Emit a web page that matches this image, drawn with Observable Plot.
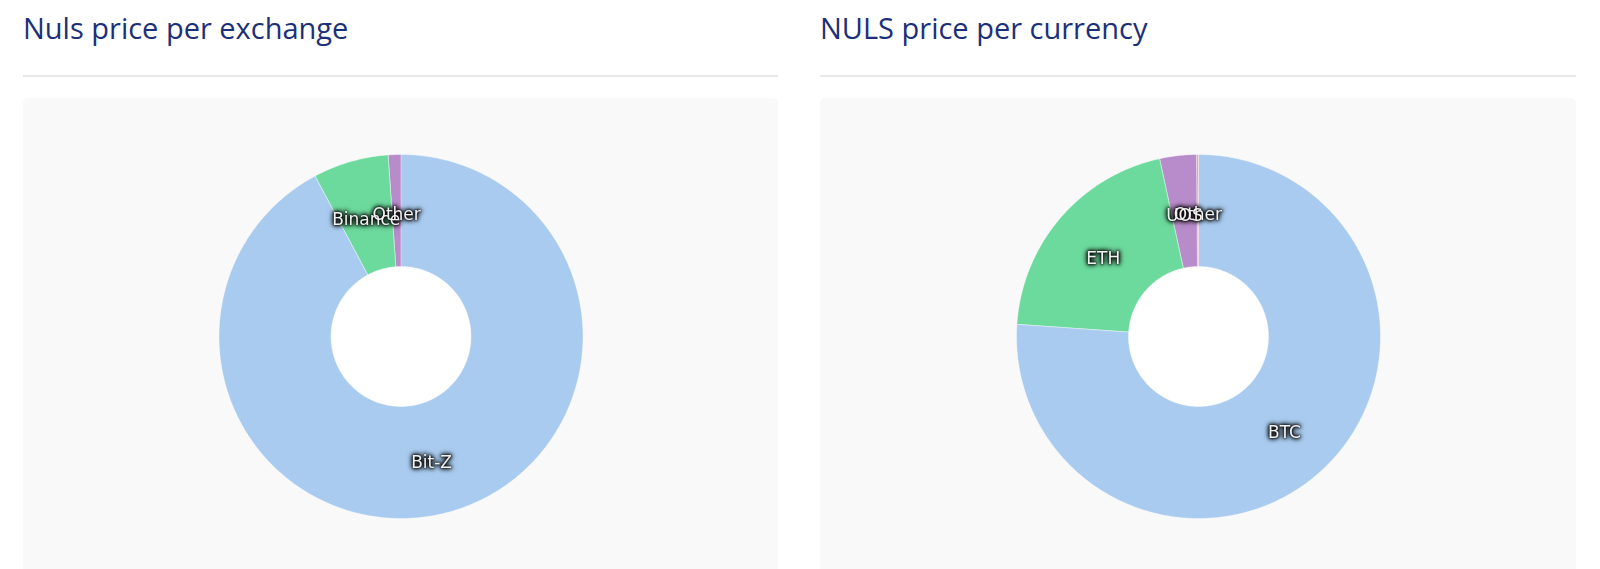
<!DOCTYPE html>
<html>
<head>
<meta charset="utf-8">
<script src="https://cdn.jsdelivr.net/npm/d3@7"></script>
<script src="https://cdn.jsdelivr.net/npm/@observablehq/plot@0.6"></script>
<style>
  html, body { margin: 0; padding: 0; background: #fff; width: 1600px; height: 569px; overflow: hidden; }
  .panel { position: absolute; top: 0; }
  .title { position: absolute; top: 7.5px; left: 0; font-family: "Open Sans", Lato, sans-serif; font-weight: 400; font-size: 29px; color: #1c3079; white-space: nowrap; }
  .rule { position: absolute; top: 75px; left: 0; height: 2px; background: #e9e9e9; }
  .box { position: absolute; top: 98px; left: 0; height: 500px; background: #f9f9f9; border-radius: 5px; overflow: hidden; }
  .box svg { display: block; }
</style>
</head>
<body>
<div class="panel" id="p1" style="left:23px;width:755px">
  <div class="title">Nuls price per exchange</div>
  <div class="rule" style="width:755px"></div>
  <div class="box" style="width:755px" id="c1"></div>
</div>
<div class="panel" id="p2" style="left:820px;width:756px">
  <div class="title">NULS price per currency</div>
  <div class="rule" style="width:756px"></div>
  <div class="box" style="width:756px" id="c2"></div>
</div>
<script>
// ---- data (percent shares, clockwise from 12 o'clock) ----
const exchanges = ["Bit-Z", "Binance", "Other"];
const exchangeShares = [92.2, 6.7, 1.1];
const currencies = ["BTC", "ETH", "UOS", "Other"];
const currencyShares = [76.1, 20.5, 3.25, 0.15];
const sliceColors = ["#a8cbef", "#6cda9c", "#b88bca", "#f0a3a8"];

function donut(names, shares, width) {
  const height = 476;
  const cx = width / 2, cy = 238, R = 182;
  const inner = 70 / 182;
  const total = d3.sum(shares);
  const rows = [];
  const labels = [];
  const hole = [];
  let acc = 0;
  names.forEach((name, i) => {
    const a0 = acc / total * 2 * Math.PI;
    acc += shares[i];
    const a1 = acc / total * 2 * Math.PI;
    const n = Math.max(2, Math.ceil((a1 - a0) / 0.01));
    const pts = [];
    for (let k = 0; k <= n; k++) { const a = a0 + (a1 - a0) * k / n; pts.push([Math.sin(a), Math.cos(a)]); }
    for (let k = n; k >= 0; k--) { const a = a0 + (a1 - a0) * k / n; pts.push([inner * Math.sin(a), inner * Math.cos(a)]); }
    pts.forEach(([x, y]) => rows.push({name, x, y}));
    const am = (a0 + a1) / 2, rm = (1 + inner) / 2;
    labels.push({name, x: rm * Math.sin(am), y: rm * Math.cos(am)});
  });
  for (let k = 0; k < 360; k++) { const a = k / 360 * 2 * Math.PI; hole.push({x: inner * Math.sin(a), y: inner * Math.cos(a)}); }
  const svg = Plot.plot({
    width, height,
    margin: 0,
    style: {background: "transparent", overflow: "visible"},
    x: {domain: [-1, 1], range: [cx - R, cx + R], axis: null},
    y: {domain: [-1, 1], range: [cy + R, cy - R], axis: null},
    color: {domain: names, range: sliceColors},
    marks: [
      Plot.line(hole, {x: "x", y: "y", fill: "#ffffff", stroke: "none", curve: "linear-closed"}),
      Plot.line(rows, {x: "x", y: "y", z: "name", fill: "name", stroke: "#ffffff", strokeOpacity: 0.5, strokeWidth: 0.8, curve: "linear-closed"}),
      Plot.text(labels, {x: "x", y: "y", text: "name", fill: "#f2f2f2", fontSize: 17, fontFamily: "DejaVu Sans", dy: 4})
    ]
  });
  d3.select(svg).selectAll("g[aria-label=text]").style("filter", "drop-shadow(0 0 1px #000) drop-shadow(0 0 2px #000) drop-shadow(0 0 2px rgba(0,0,0,0.6))");
  return svg;
}
document.getElementById("c1").appendChild(donut(exchanges, exchangeShares, 755));
document.getElementById("c2").appendChild(donut(currencies, currencyShares, 756));
</script>
</body>
</html>
